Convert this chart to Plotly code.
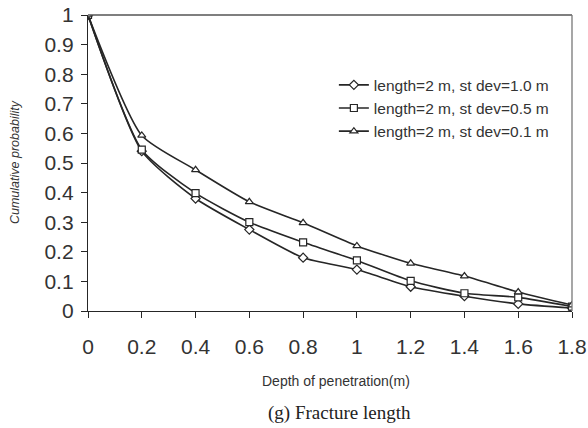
import plotly.graph_objects as go

depth = [0, 0.2, 0.4, 0.6, 0.8, 1.0, 1.2, 1.4, 1.6, 1.8]
sd_10 = [1.0, 0.54, 0.38, 0.275, 0.18, 0.14, 0.082, 0.05, 0.024, 0.01]
sd_05 = [1.0, 0.545, 0.398, 0.30, 0.232, 0.171, 0.102, 0.06, 0.046, 0.015]
sd_01 = [1.0, 0.593, 0.477, 0.369, 0.298, 0.22, 0.161, 0.118, 0.064, 0.02]
names = ["length=2 m, st dev=1.0 m", "length=2 m, st dev=0.5 m", "length=2 m, st dev=0.1 m"]
symbols = ["diamond", "square", "triangle-up"]
x_ticks = [0, 0.2, 0.4, 0.6, 0.8, 1, 1.2, 1.4, 1.6, 1.8]
y_ticks = [0, 0.1, 0.2, 0.3, 0.4, 0.5, 0.6, 0.7, 0.8, 0.9, 1]

ink = "#262626"
txt = "#333"
fig = go.Figure()
for ys, nm, sym in zip([sd_10, sd_05, sd_01], names, symbols):
    fig.add_trace(go.Scatter(
        x=depth, y=ys, name=nm, mode="lines+markers",
        line=dict(color=ink, width=1.6, shape="spline", smoothing=0.6),
        marker=dict(symbol=sym, size=7, color="white",
                    line=dict(color=ink, width=1.2)),
    ))

fig.update_layout(
    width=588, height=428,
    margin=dict(l=88, r=16, t=15, b=117, autoexpand=False),
    paper_bgcolor="white", plot_bgcolor="white",
    font=dict(family="Arial, Liberation Sans, sans-serif", color=txt),
    showlegend=True,
    legend=dict(x=0.508, y=0.82, xanchor="left", yanchor="top",
                bgcolor="rgba(0,0,0,0)", font=dict(size=15.5, color=txt),
                tracegroupgap=0, itemwidth=30),
    xaxis=dict(range=[0, 1.8], tickvals=x_ticks,
               ticktext=[f"{v:g}" for v in x_ticks],
               tickfont=dict(size=21, color=txt),
               ticks="outside", ticklen=6, tickcolor=ink,
               ticklabelstandoff=11,
               showline=True, linecolor=ink, linewidth=1.3,
               mirror=False, showgrid=False, zeroline=False),
    yaxis=dict(range=[0, 1], tickvals=y_ticks,
               ticktext=[f"{v:g}" for v in y_ticks],
               tickfont=dict(size=21, color=txt),
               ticks="outside", ticklen=6, tickcolor=ink,
               ticklabelstandoff=3,
               showline=True, linecolor=ink, linewidth=1.3,
               showgrid=False, zeroline=False),
)

# thin frame on top and right of the plot area
fig.add_shape(type="line", xref="paper", yref="paper", x0=0, x1=1, y0=1, y1=1,
              line=dict(color="#555", width=1.3))
fig.add_shape(type="line", xref="paper", yref="paper", x0=1, x1=1, y0=0, y1=1,
              line=dict(color="#777", width=1.3))

# axis titles
fig.add_annotation(text="Depth of penetration(m)", xref="paper", yref="paper",
                   x=0.512, y=-0.237, showarrow=False, xanchor="center",
                   yanchor="middle", font=dict(size=14, color=txt))
fig.add_annotation(text="<i>Cumulative probability</i>", xref="paper",
                   yref="paper", x=-0.151, y=0.503, textangle=-90,
                   showarrow=False, xanchor="center", yanchor="middle",
                   font=dict(size=12.5, color=txt))

fig.add_annotation(text="(g) Fracture length", xref="paper", yref="paper",
                   x=0.52, y=-0.345, showarrow=False, xanchor="center",
                   yanchor="middle",
                   font=dict(family="Liberation Serif, Times New Roman, serif",
                             size=19, color="#222"))

fig.write_html("out.html")
